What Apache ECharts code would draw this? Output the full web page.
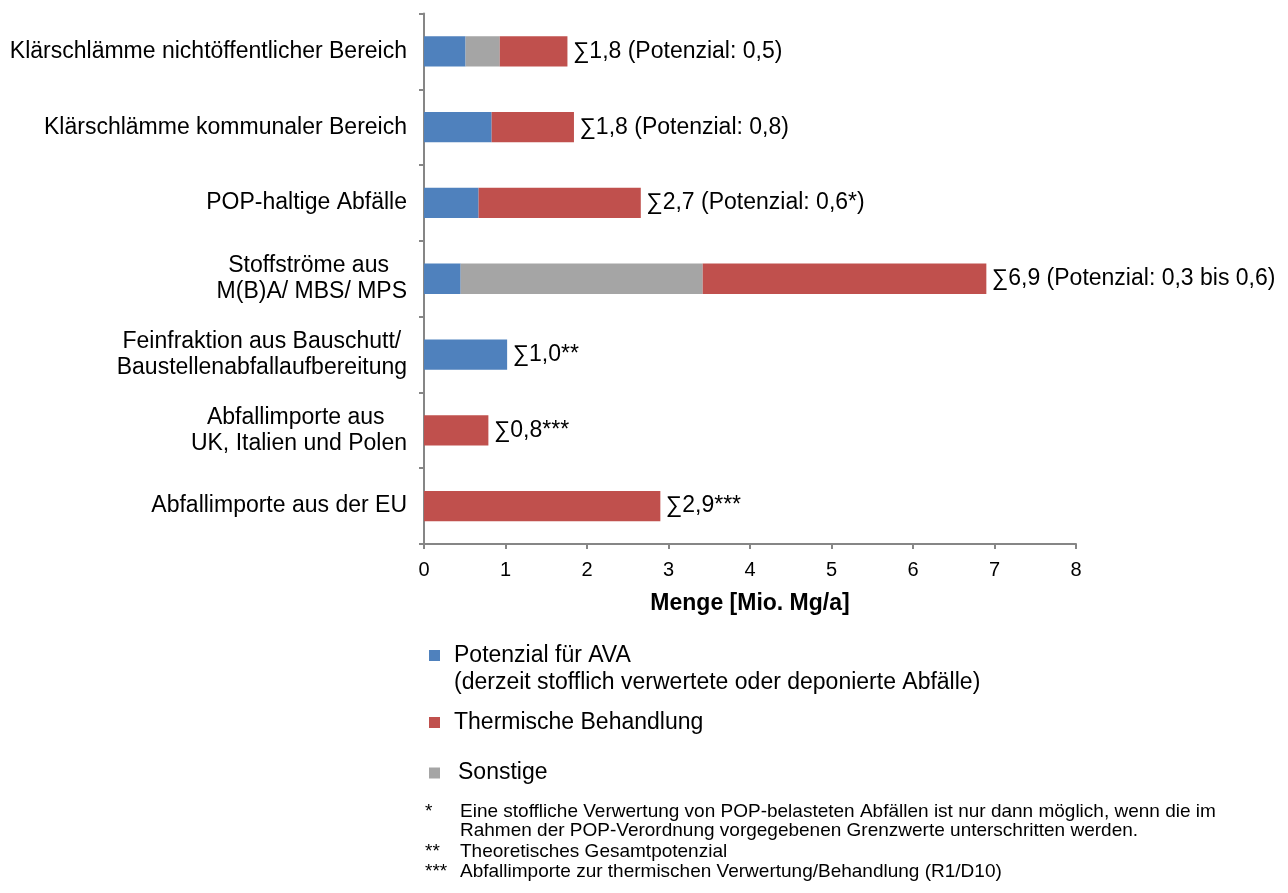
<!DOCTYPE html>
<html>
<head>
<meta charset="utf-8">
<script src="https://cdn.jsdelivr.net/npm/echarts@6/dist/echarts.min.js"></script>
<style>
html,body{margin:0;padding:0;background:#fff;}
#chart{width:1288px;height:893px;}
</style>
</head>
<body>
<div id="chart"></div>
<script>
// ---- data ----
var categories = [
  "Klärschlämme nichtöffentlicher Bereich",
  "Klärschlämme kommunaler Bereich",
  "POP-haltige Abfälle",
  "Stoffströme aus \nM(B)A/ MBS/ MPS",
  "Feinfraktion aus Bauschutt/\nBaustellenabfallaufbereitung",
  "Abfallimporte aus \nUK, Italien und Polen",
  "Abfallimporte aus der EU"
];
var potenzialAVA = [0.51, 0.83, 0.67, 0.45, 1.02, 0, 0];
var sonstige     = [0.42, 0,    0,    2.97, 0,    0, 0];
var thermisch    = [0.83, 1.01, 1.99, 3.48, 0,    0.79, 2.90];
var sumLabels = [
  "∑1,8 (Potenzial: 0,5)",
  "∑1,8 (Potenzial: 0,8)",
  "∑2,7 (Potenzial: 0,6*)",
  "∑6,9 (Potenzial: 0,3 bis 0,6)",
  "∑1,0**",
  "∑0,8***",
  "∑2,9***"
];
var seriesNames = [
  "Potenzial für AVA\n(derzeit stofflich verwertete oder deponierte Abfälle)",
  "Thermische Behandlung",
  "Sonstige"
];
var xTicks = [0, 1, 2, 3, 4, 5, 6, 7, 8];
var axisTitle = "Menge [Mio. Mg/a]";
var footMarks = ["*", "", "**", "***"];
var footTexts = [
  "Eine stoffliche Verwertung von POP-belasteten Abfällen ist nur dann möglich, wenn die im",
  "Rahmen der POP-Verordnung vorgegebenen Grenzwerte unterschritten werden.",
  "Theoretisches Gesamtpotenzial",
  "Abfallimporte zur thermischen Verwertung/Behandlung (R1/D10)"
];

// ---- chart ----
var FONT = "'Liberation Sans', Arial, sans-serif";
var BLUE = "#4F81BD", RED = "#C0504D", GRAY = "#A5A5A5", AXIS = "#868686";

var totals = categories.map(function (c, i) {
  return potenzialAVA[i] + sonstige[i] + thermisch[i];
});

var footY = [812, 831, 852, 872];
var graphics = [];
footTexts.forEach(function (t, i) {
  if (footMarks[i]) {
    graphics.push({type: 'text', left: 425, top: footY[i] - 10,
      style: {text: footMarks[i], font: "19px " + FONT, fill: '#000'}});
  }
  graphics.push({type: 'text', left: 460, top: footY[i] - 10,
    style: {text: t, font: "19px " + FONT, fill: '#000'}});
});

var legendText = {fontSize: 23, color: '#000', fontFamily: FONT, lineHeight: 27};
function lt(extra) { return Object.assign({}, legendText, extra); }

var chart = echarts.init(document.getElementById('chart'), null, {renderer: 'canvas'});
chart.setOption({
  animation: false,
  backgroundColor: '#fff',
  textStyle: {fontFamily: FONT},
  grid: {left: 424, top: 13.5, width: 652, height: 530.5},
  legend: [
    {data: [seriesNames[0]], left: 429, top: 615, padding: 0,
     itemWidth: 11, itemHeight: 11, icon: 'rect', selectedMode: false,
     formatter: function (n) { return ' \n' + n; },
     textStyle: lt({padding: [0, 0, 0, 9]})},
    {data: [seriesNames[1]], left: 429, top: 709, padding: 0,
     itemWidth: 11, itemHeight: 11, icon: 'rect', selectedMode: false,
     textStyle: lt({padding: [0, 0, 0, 9]})},
    {data: [seriesNames[2]], left: 429, top: 759.5, padding: 0,
     itemWidth: 11, itemHeight: 11, icon: 'rect', selectedMode: false,
     textStyle: lt({padding: [0, 0, 0, 13]})}
  ],
  xAxis: {
    type: 'value', min: xTicks[0], max: xTicks[xTicks.length - 1], interval: 1,
    name: axisTitle, nameLocation: 'middle', nameGap: 48,
    nameTextStyle: {fontSize: 23, fontWeight: 'bold', color: '#000', fontFamily: FONT},
    axisLine: {show: true, lineStyle: {color: AXIS, width: 2}},
    axisTick: {show: true, length: 5, lineStyle: {color: AXIS, width: 2}},
    axisLabel: {fontSize: 20, color: '#000', margin: 16, fontFamily: FONT},
    splitLine: {show: false}
  },
  yAxis: {
    type: 'category', data: categories, inverse: true,
    axisLine: {show: true, lineStyle: {color: AXIS, width: 2}},
    axisTick: {show: true, length: 5, lineStyle: {color: AXIS, width: 2}},
    axisLabel: {
      fontSize: 23, color: '#000', margin: 17, lineHeight: 26, fontFamily: FONT,
      formatter: function (v) {
        if (v.indexOf('\n') < 0) return v;
        return v.split('\n').map(function (l) { return '{c|' + l + '}'; }).join('\n');
      },
      rich: {c: {align: 'center', fontSize: 23, lineHeight: 26, color: '#000', fontFamily: FONT}}
    }
  },
  series: [
    {name: seriesNames[0], type: 'bar', stack: 'total', data: potenzialAVA,
     barCategoryGap: '60%', itemStyle: {color: BLUE}},
    {name: seriesNames[2], type: 'bar', stack: 'total', data: sonstige,
     itemStyle: {color: GRAY}},
    {name: seriesNames[1], type: 'bar', stack: 'total', data: thermisch,
     itemStyle: {color: RED}},
    {name: 'Summe', type: 'scatter', silent: true, symbolSize: 1,
     itemStyle: {color: '#000', opacity: 0},
     data: totals.map(function (t, i) { return [t, i]; }),
     label: {show: true, position: 'right', distance: 5, fontSize: 23, color: '#000',
       opacity: 1, textBorderWidth: 0, fontFamily: FONT,
       formatter: function (p) { return sumLabels[p.dataIndex]; }}}
  ],
  graphic: graphics
});
</script>
</body>
</html>
